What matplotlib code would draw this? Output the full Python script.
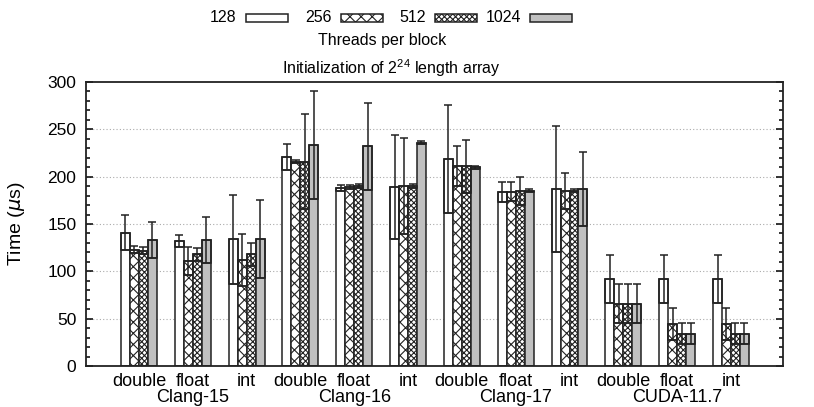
import numpy as np
import matplotlib.pyplot as plt
from matplotlib.patches import Rectangle
from matplotlib.ticker import MultipleLocator

plt.rcParams['font.family'] = ['Liberation Sans', 'DejaVu Sans']
plt.rcParams['hatch.linewidth'] = 0.8

compilers = ["Clang-15", "Clang-16", "Clang-17", "CUDA-11.7"]
types = ["double", "float", "int"]
threads = ["128", "256", "512", "1024"]

# mean time (us), one row per compiler/type, one column per threads-per-block
mean = np.array([
    [141, 123, 122, 133],   # Clang-15 double
    [132, 111, 118, 133],   # Clang-15 float
    [134, 112, 118, 134],   # Clang-15 int
    [221, 216, 216, 233],   # Clang-16 double
    [188, 189, 190, 232],   # Clang-16 float
    [189, 190, 190, 236],   # Clang-16 int
    [219, 211, 211, 210],   # Clang-17 double
    [184, 184, 185, 185],   # Clang-17 float
    [187, 185, 185, 187],   # Clang-17 int
    [92, 66, 66, 66],       # CUDA-11.7 double
    [92, 44, 34, 34],       # CUDA-11.7 float
    [92, 44, 34, 34],       # CUDA-11.7 int
])
err = np.array([
    [18, 4, 4, 19],
    [6, 15, 7, 24],
    [47, 27, 12, 41],
    [14, 1.5, 50, 57],
    [3.5, 2, 2, 46],
    [55, 51, 2, 2],
    [57, 21, 28, 1.5],
    [10.5, 10, 15, 1.5],
    [67, 19, 1.5, 39],
    [25, 20.5, 20.5, 20.5],
    [25, 17, 11, 11],
    [25, 17, 11, 11],
])

face = ["white", "white", "white", "#c0c0c0"]
hatch = [None, "xxx", "xxxxxx", None]
edge = "#222222"

W, H = 814, 407
fig = plt.figure(figsize=(W / 100, H / 100), dpi=100)
ax = fig.add_axes([86 / W, 1 - 366 / H, 697 / W, 284 / H])

n_groups = mean.shape[0]
group_x = np.arange(n_groups) * 6
for j in range(4):
    x = group_x + j
    ax.bar(x, mean[:, j], width=1.0, color=face[j], hatch=hatch[j],
           edgecolor=edge, linewidth=1.1, zorder=2)
    ax.bar(x, err[:, j], width=1.0, bottom=mean[:, j] - err[:, j], fill=False,
           edgecolor=edge, linewidth=1.1, zorder=3)
    ax.errorbar(x, mean[:, j], yerr=err[:, j], fmt="none", ecolor=edge,
                elinewidth=1.1, capsize=3, capthick=1.1, zorder=4)

ax.set_xlim(-4.4, 73.3)
ax.set_ylim(0, 300)
ax.yaxis.set_major_locator(MultipleLocator(50))
ax.yaxis.set_minor_locator(MultipleLocator(10))
ax.tick_params(axis="y", which="both", direction="in", right=True,
               labelsize=12.5, pad=7)
ax.tick_params(axis="y", which="major", length=5, width=1.1)
ax.tick_params(axis="y", which="minor", length=3, width=1.1)
ax.tick_params(axis="x", length=0, pad=5)
ax.set_xticks(group_x + 1.5)
ax.set_xticklabels(types * len(compilers), fontsize=13)
for s in ax.spines.values():
    s.set_linewidth(1.3)
    s.set_color(edge)
for v in range(50, 300, 50):
    ax.axhline(v, color="#aaaaaa", linestyle=(0, (1, 2)), linewidth=0.8, zorder=1)

for k, name in enumerate(compilers):
    ax.text(group_x[3 * k + 1] + 1.5, -33, name, ha="center", va="center",
            fontsize=13, clip_on=False)

ax.set_ylabel("Time ($\\mu$s)", fontsize=14)
ax.yaxis.set_label_coords(-0.084, 0.5)

fig.text(391 / W, 1 - 68 / H, "Initialization of $\\mathregular{2^{24}}$ length array",
         ha="center", va="center", fontsize=11.5)

# legend drawn by hand: right-aligned labels with a swatch after each
box_left = [245.7, 340.7, 435, 530]
for j, lab in enumerate(threads):
    fig.text((box_left[j] - 9) / W, 1 - 18 / H, lab, ha="right", va="center",
             fontsize=11.5)
    fig.add_artist(Rectangle((box_left[j] / W, 1 - 22 / H), 42 / W, 8 / H,
                             transform=fig.transFigure, facecolor=face[j],
                             hatch=hatch[j], edgecolor=edge, linewidth=1.1))
fig.text(382 / W, 1 - 40 / H, "Threads per block", ha="center", va="center",
         fontsize=11.5)

fig.savefig("out.png", dpi=100)
